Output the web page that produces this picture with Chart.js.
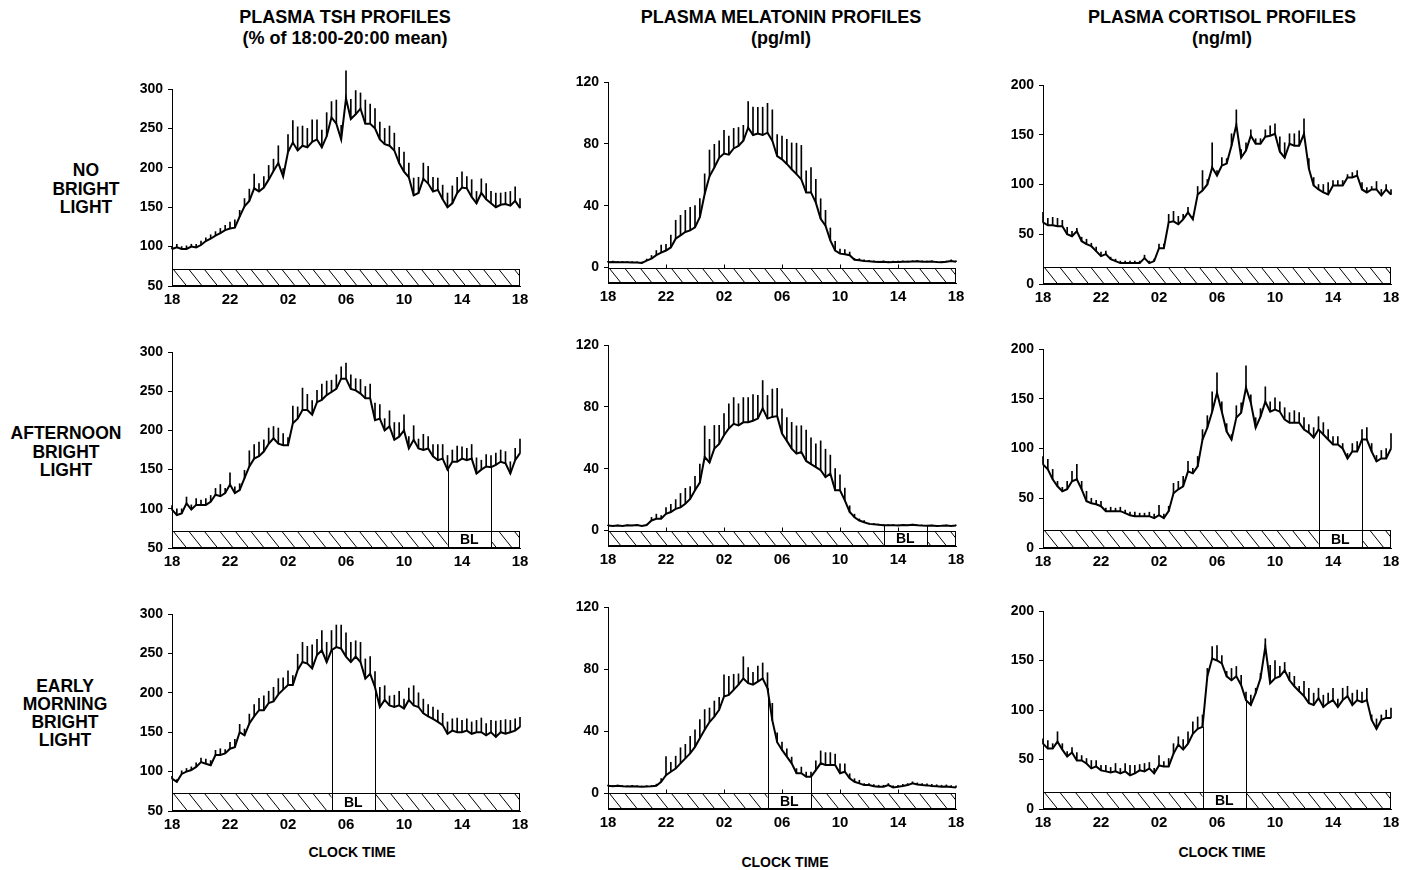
<!DOCTYPE html>
<html>
<head>
<meta charset="utf-8">
<script src="https://cdn.jsdelivr.net/npm/chart.js@4.4.0/dist/chart.umd.min.js"></script>
<style>
  body { margin: 0; background: #fff; width: 1411px; height: 870px; position: relative; overflow: hidden;
         font-family: 'Liberation Sans', Arial, Helvetica, sans-serif; font-weight: bold; color: #000; }
  .lbl { position: absolute; text-align: center; white-space: nowrap; transform: translateX(-50%); }
  .title { font-size: 18px; line-height: 21px; top: 7px; }
  .row { font-size: 17.5px; line-height: 18.5px; }
  .xt { font-size: 14px; line-height: 16px; }
  canvas { position: absolute; }
</style>
</head>
<body>
<div class="lbl title" style="left:345px">PLASMA TSH PROFILES<br>(% of 18:00-20:00 mean)</div>
<div class="lbl title" style="left:781px">PLASMA MELATONIN PROFILES<br>(pg/ml)</div>
<div class="lbl title" style="left:1222px">PLASMA CORTISOL PROFILES<br>(ng/ml)</div>

<div class="lbl row" style="left:86px;top:161px">NO<br>BRIGHT<br>LIGHT</div>
<div class="lbl row" style="left:66px;top:424px">AFTERNOON<br>BRIGHT<br>LIGHT</div>
<div class="lbl row" style="left:65px;top:677px;line-height:18px">EARLY<br>MORNING<br>BRIGHT<br>LIGHT</div>

<div class="lbl xt" style="left:352px;top:844px">CLOCK TIME</div>
<div class="lbl xt" style="left:785px;top:854px">CLOCK TIME</div>
<div class="lbl xt" style="left:1222px;top:844px">CLOCK TIME</div>

<script>
// samples every 20 min, hours after 18:00
const sampleHours = Array.from({ length: 73 }, (_, i) => i / 3);
const tickHours = [0, 4, 8, 12, 16, 20, 24];
const tickLabels = ['18', '22', '02', '06', '10', '14', '18'];

const tshTicks = [50, 100, 150, 200, 250, 300];
const melTicks = [0, 40, 80, 120];
const cortTicks = [0, 50, 100, 150, 200];

// TSH (% of 18:00-20:00 mean)
const tshNoLight = [97,99,97, 97,100,99, 102,107,110, 114,117,121, 123,124,138, 151,158,174, 170,175,185, 196,206,189,
  220,232,222, 228,226,233, 236,226,240, 264,256,236, 288,262,268, 275,256,256, 250,236,230, 228,222,206,
  195,188,165, 168,186,180, 170,172,160, 150,155,168, 175,174,163, 155,168,160, 155,150,153, 154,152,158, 149];
const tshNoLightSem = [3,4,3, 4,3,4, 5,4,5, 5,6,6, 8,10,8, 10,15,18, 10,14,18, 15,22,10,
  22,28,30, 25,24,28, 25,22,30, 20,30,18, 35,25,30, 20,30,25, 25,22,20, 25,22,20,
  25,18,22, 20,20,22, 18,15,18, 18,22,20, 20,15,22, 15,18,20, 15,18,15, 15,18,18, 12];

const tshAfternoon = [99,92,94, 107,99,105, 105,105,109, 118,116,120, 131,120,124, 139,154,164, 167,173,183, 190,183,181,
  181,209,215, 226,226,220, 236,239,245, 249,253,266, 266,253,251, 247,241,241, 213,215,200, 205,188,192,
  200,177,188, 177,175,177, 167,162,164, 150,160,160, 164,162,164, 145,150,154, 153,156,160, 158,145,162, 171];
const tshAfternoonSem = [5,8,6, 8,6,8, 6,8,8, 8,15,6, 15,8,8, 10,20,18, 18,15,20, 15,20,15,
  10,22,15, 28,20,18, 15,20,18, 15,18,15, 20,18,15, 18,15,18, 22,18,15, 20,22,18,
  20,15,18, 12,20,15, 15,20,18, 18,15,20, 15,15,18, 20,12,15, 15,15,15, 15,15,15, 18];

const tshMorning = [91,87,97, 100,102,106, 112,110,108, 121,121,123, 129,131,150, 146,161,170, 178,178,187, 189,198,204,
  210,210,229, 239,237,231, 248,254,239, 254,258,256, 246,239,246, 239,218,224, 207,182,191, 184,182,184,
  180,191,184, 182,174,170, 167,163,159, 148,152,150, 150,152,148, 150,150,146, 150,144,150, 148,150,152, 157];
const tshMorningSem = [3,3,4, 4,4,5, 5,6,6, 6,8,5, 8,10,10, 8,12,15, 15,18,15, 18,20,15,
  18,12,20, 25,22,30, 20,25,25, 25,28,30, 30,25,20, 25,25,22, 20,25,18, 12,15,18,
  12,15,25, 18,18,15, 15,15,15, 15,15,18, 15,15,15, 15,18,15, 15,20,15, 18,15,15, 12];

// melatonin (pg/ml)
const melNoLight = [3.5,3.6,3.4, 3.5,3.4,3.3, 3.2,3.0,4.5, 5.8,8,9.6, 11,13,18.6, 20.8,23,24, 26,32.6,47.6, 59,64.7,71,
  73.7,73,77, 78.6,82,90.4, 85.7,86.6,85.7, 87.2,82,72, 70,67,63.6, 60.4,57,48.6, 48.6,42,31.5, 27,17.6,11,
  9,8.6,8, 5,4.7,4.2, 4,3.8,3.6, 3.8,3.5,3.6, 3.6,3.8,3.7, 3.9,4.0,3.8, 3.7,3.9,3.5, 3.4,3.7,4.2, 3.8];
const melNoLightSem = [0.5,0.5,0.5, 0.5,0.5,0.5, 0.5,0.5,1, 2,3,5, 4,8,12, 13,14,15, 14,12,13, 17,15,11,
  15,12,13, 12,10,17, 18,17,18, 19,20,14, 15,16,17, 20,22,14, 16,15,13, 10,8,6,
  3,3,2, 1,1,0.8, 0.6,0.5,0.5, 0.5,0.5,0.5, 0.5,0.5,0.5, 0.5,0.5,0.5, 0.5,0.5,0.5, 0.5,0.5,0.8, 0.5];

const melAfternoon = [3.2,3.0,3.3, 3.0,3.4,3.2, 3.5,3.0,3.6, 6.5,7.6,7.6, 10.8,12,14, 15,17.3,20.5, 26,31,47.6, 44,53,56,
  61.6,66,69, 68,70,70, 71,72.4,79, 72.4,73.5,74, 62.7,58,53, 49.7,50.8,45, 43,41,39, 34.6,36.8,26,
  26,19.5,12, 8.6,6.5,5.4, 4.3,4.0,3.7, 3.5,3.4,3.5, 3.3,3.6,3.4, 3.8,3.4,3.2, 3.1,3.2,3.0, 3.1,3.3,3.0, 3.3];
const melAfternoonSem = [0.3,0.3,0.3, 0.3,0.3,0.3, 0.3,0.3,0.5, 2,3,2, 4,5,6, 9,10,8, 9,12,20, 15,15,12,
  14,16,17, 14,16,16, 17,15,18, 15,18,18, 16,15,17, 18,17,20, 17,15,19, 18,12,14,
  10,8,4, 2,1,1, 0.5,0.5,0.5, 0.3,0.3,0.3, 0.3,0.3,0.3, 0.3,0.3,0.3, 0.3,0.3,0.3, 0.3,0.3,0.3, 0.3];

const melMorning = [4.9,4.7,4.9, 4.6,4.5,4.7, 4.5,4.3,4.5, 4.6,5,7.5, 11.8,14,16, 19.4,22.6,25.8, 30,35.5,41, 46,49.5,53.8,
  62.4,63.4,66.7, 70,74,71, 70,72,74, 67.7,47,33, 28,23.7,19.4, 13,13,10.8, 10.8,15,19.4, 18.3,18.3,18.3,
  13,14,9.7, 7.5,6.5,5.4, 5.4,4.7,4.3, 4.3,5.4,3.9, 4.3,4.8,5.4, 6.5,5.8,5.4, 5.2,4.8,4.6, 4.3,4.5,4.1, 3.9];
const melMorningSem = [0.5,0.5,0.5, 0.5,0.5,0.5, 0.5,0.5,0.5, 0.5,1,2, 12,6,8, 10,9,11, 11,12,13, 9,10,8,
  14,12,10, 7,14,10, 8,10,10, 10,11,6, 5,5,4, 3,4,3, 3,6,8, 8,8,7,
  6,5,3, 2,2,1, 1,1,1, 1,1,1, 1,1,1, 1,1,1, 1,1,1, 1,1,1, 1];

// cortisol (ng/ml)
const cortNoLight = [62,59,59, 58,58,50, 48,53,43, 40,38,33, 28,30,25, 23,21,21, 21,21,21, 26,21,23,
  36,36,62, 63,60,65, 72,65,90, 94,100,117, 109,119,121, 139,160,127, 134,149,141, 141,148,149,
  151,133,127, 141,139,139, 151,116,99, 95,92,90, 99,99,99, 107,107,109, 95,92,95, 95,89,95, 90];
const cortNoLightSem = [10,7,8, 8,6,7, 5,3,4, 5,3,4, 4,3,2, 2,2,2, 2,2,2, 3,2,2,
  4,4,8, 10,8,5, 5,3,8, 20,5,25, 5,8,5, 12,15,8, 8,6,5, 5,7,10,
  10,15,15, 10,12,15, 15,10,8, 5,8,12, 5,5,5, 3,5,5, 7,5,3, 8,6,5, 5];

const cortAfternoon = [84,79,69, 62,57,59, 67,69,59, 47,45,44, 42,37,37, 37,37,35, 33,32,32, 32,32,30,
  33,30,37, 55,59,62, 77,75,82, 109,121,137, 156,137,117, 109,131,136, 161,146,121, 132,147,137,
  139,137,129, 126,126,126, 119,116,111, 119,114,109, 104,104,100, 90,97,97, 109,109,97, 87,90,90, 100];
const cortAfternoonSem = [8,10,10, 5,4,8, 10,15,8, 10,5,4, 5,3,4, 3,4,3, 3,4,3, 3,4,4,
  10,4,5, 10,8,10, 10,5,10, 10,12,20, 20,10,8, 5,12,10, 22,8,10, 8,15,10,
  12,10,12, 10,12,10, 12,8,10, 13,12,10, 8,8,5, 5,8,10, 10,12,8, 6,8,10, 15];

const cortMorning = [66,61,61, 68,60,53, 57,49,49, 46,41,43, 39,38,37, 38,36,38, 34,36,39, 38,41,36,
  44,43,43, 56,65,60, 66,76,81, 83,134,152, 150,147,134, 130,134,125, 110,105,117, 132,164,127,
  132,134,140, 130,124,119, 114,107,105, 112,103,107, 110,103,110, 114,105,110, 108,110,90, 81,90,92, 92];
const cortMorningSem = [5,8,5, 10,6,5, 5,8,5, 5,8,6, 5,6,5, 8,5,8, 10,8,6, 8,6,5,
  10,5,8, 10,8,10, 12,12,12, 12,8,12, 15,8,5, 12,10,10, 8,10,5, 5,8,18,
  18,10,8, 8,10,5, 15,15,12, 10,12,10, 12,8,12, 10,12,10, 10,12,5, 10,5,8, 10];

// bright light windows, hours after 18:00
const blAfternoon = [19, 22];  // 13:00-16:00
const blMorning = [11, 14];    // 05:00-08:00

Chart.defaults.font.family = "'Liberation Sans', Arial, Helvetica, sans-serif";
Chart.defaults.font.weight = 'bold';
Chart.defaults.color = '#000';

const sleepBar = {
  id: 'sleepBar',
  beforeDatasetsDraw(chart, args, opts) {
    const { ctx } = chart;
    const x = chart.scales.x, y = chart.scales.y;
    const L = Math.round(x.getPixelForValue(0)) + 0.5;
    const R = Math.round(x.getPixelForValue(24)) - 0.5;
    const T = Math.round(y.getPixelForValue(opts.top)) + 0.5;
    const B = Math.round(y.getPixelForValue(y.min)) - 0.5;
    const h = B - T;
    ctx.save();
    ctx.fillStyle = '#fff';
    ctx.fillRect(L, T, R - L, h);
    ctx.strokeStyle = '#000';
    ctx.lineWidth = 1;
    const segs = opts.bl ? [[0, opts.bl[0]], [opts.bl[1], 24]] : [[0, 24]];
    segs.forEach(([a, b]) => {
      const xa = x.getPixelForValue(a), xb = x.getPixelForValue(b);
      ctx.save();
      ctx.beginPath();
      ctx.rect(xa, T, xb - xa, h);
      ctx.clip();
      ctx.beginPath();
      for (let xx = L - 30; xx < R + 30; xx += 15.5) {
        ctx.moveTo(xx, T);
        ctx.lineTo(xx + h * 0.8, B);
      }
      ctx.stroke();
      ctx.restore();
    });
    ctx.strokeRect(L, T, R - L, h);
    if (opts.topTicks) {
      ctx.beginPath();
      tickHours.slice(1, -1).forEach(v => {
        const px = Math.round(x.getPixelForValue(v)) + 0.5;
        ctx.moveTo(px, T); ctx.lineTo(px, T - 4);
      });
      ctx.stroke();
    }
    if (opts.bl) {
      const pts = chart.getDatasetMeta(0).data;
      ctx.beginPath();
      opts.bl.forEach(v => {
        const px = Math.round(x.getPixelForValue(v)) + 0.5;
        const idx = sampleHours.findIndex(s => Math.abs(s - v) < 1e-6);
        ctx.moveTo(px, B);
        ctx.lineTo(px, pts[idx].y);
      });
      ctx.stroke();
      ctx.font = "bold 14px 'Liberation Sans', Arial, sans-serif";
      ctx.textAlign = 'center';
      ctx.textBaseline = 'middle';
      ctx.fillStyle = '#000';
      ctx.fillText('BL', x.getPixelForValue((opts.bl[0] + opts.bl[1]) / 2), (T + B) / 2 + 1);
    }
    ctx.restore();
  }
};

const padL = 60, padR = 22, padT = 42, padB = 32;

function makePanel(p) {
  const cv = document.createElement('canvas');
  cv.width = p.right - p.left + padL + padR;
  cv.height = p.bottom - p.top + padT + padB;
  cv.style.left = (p.left - padL) + 'px';
  cv.style.top = (p.top - padT) + 'px';
  document.body.appendChild(cv);

  new Chart(cv, {
    type: 'line',
    data: {
      datasets: [
        {
          type: 'line',
          data: sampleHours.map((h, i) => ({ x: h, y: p.mean[i] })),
          borderColor: '#000',
          borderWidth: 2,
          pointRadius: 0,
          tension: 0,
          clip: false,
          order: 0,
        },
        {
          type: 'bar',
          data: sampleHours.map((h, i) => ({ x: h, y: [p.mean[i], p.mean[i] + p.sem[i]] })),
          backgroundColor: '#000',
          borderWidth: 0,
          barThickness: 1,
          clip: false,
          order: 1,
        },
      ],
    },
    options: {
      responsive: false,
      animation: false,
      events: [],
      layout: { padding: { top: padT, right: padR, left: 0, bottom: 0 } },
      plugins: {
        legend: { display: false },
        tooltip: { enabled: false },
        sleepBar: { top: p.barTop, bl: p.bl, topTicks: p.topTicks },
      },
      scales: {
        x: {
          type: 'linear',
          min: 0,
          max: 24,
          offset: false,
          afterBuildTicks: s => { s.ticks = tickHours.map(v => ({ value: v })); },
          afterFit: s => { s.height = padB; },
          ticks: {
            autoSkip: false,
            maxRotation: 0,
            padding: 5,
            font: { size: 15, weight: 'bold' },
            callback: v => tickLabels[tickHours.indexOf(v)],
          },
          grid: { display: false, drawTicks: false },
          border: { color: '#000', width: 1 },
        },
        y: {
          min: p.yMin,
          max: p.yMax,
          afterBuildTicks: s => { s.ticks = p.yTicks.map(v => ({ value: v })); },
          afterFit: s => { s.width = padL; },
          ticks: { padding: 5, font: { size: 14, weight: 'bold' } },
          grid: { drawOnChartArea: false, drawTicks: true, tickLength: 4, color: '#000' },
          border: { color: '#000', width: 1 },
        },
      },
    },
    plugins: [sleepBar],
  });
}

const panels = [
  { left: 172, right: 520, top: 89, bottom: 286, yMin: 50, yMax: 300, yTicks: tshTicks, barTop: 72,
    mean: tshNoLight, sem: tshNoLightSem, bl: null },
  { left: 608, right: 956, top: 82, bottom: 283, yMin: -10, yMax: 120, yTicks: melTicks, barTop: 0, topTicks: true,
    mean: melNoLight, sem: melNoLightSem, bl: null },
  { left: 1043, right: 1391, top: 85, bottom: 284, yMin: 0, yMax: 200, yTicks: cortTicks, barTop: 17,
    mean: cortNoLight, sem: cortNoLightSem, bl: null },

  { left: 172, right: 520, top: 352, bottom: 548, yMin: 50, yMax: 300, yTicks: tshTicks, barTop: 72,
    mean: tshAfternoon, sem: tshAfternoonSem, bl: blAfternoon },
  { left: 608, right: 956, top: 345, bottom: 546, yMin: -10, yMax: 120, yTicks: melTicks, barTop: 0, topTicks: true,
    mean: melAfternoon, sem: melAfternoonSem, bl: blAfternoon },
  { left: 1043, right: 1391, top: 349, bottom: 548, yMin: 0, yMax: 200, yTicks: cortTicks, barTop: 18,
    mean: cortAfternoon, sem: cortAfternoonSem, bl: blAfternoon },

  { left: 172, right: 520, top: 614, bottom: 811, yMin: 50, yMax: 300, yTicks: tshTicks, barTop: 73,
    mean: tshMorning, sem: tshMorningSem, bl: blMorning },
  { left: 608, right: 956, top: 607, bottom: 809, yMin: -10, yMax: 120, yTicks: melTicks, barTop: 0, topTicks: true,
    mean: melMorning, sem: melMorningSem, bl: blMorning },
  { left: 1043, right: 1391, top: 611, bottom: 809, yMin: 0, yMax: 200, yTicks: cortTicks, barTop: 17,
    mean: cortMorning, sem: cortMorningSem, bl: blMorning },
];

panels.forEach(makePanel);
</script>
</body>
</html>
